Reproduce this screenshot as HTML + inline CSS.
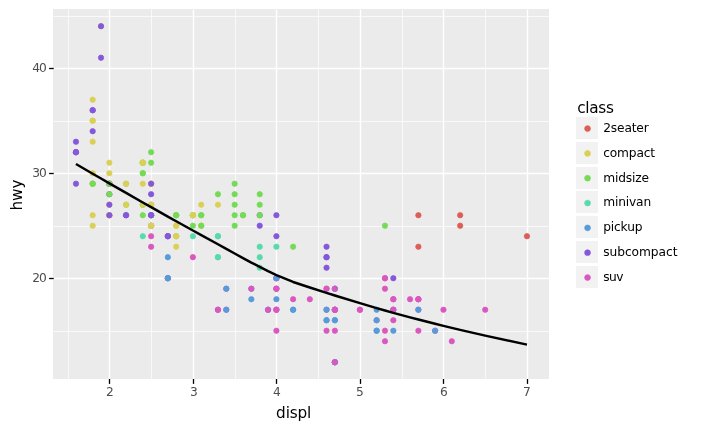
<!DOCTYPE html>
<html lang="en"><head><meta charset="utf-8"><title>hwy vs displ by class</title>
<style>html,body{margin:0;padding:0;background:#fff}body{width:704px;height:430px;overflow:hidden}svg{display:block}text{font-family:"DejaVu Sans","Liberation Sans",sans-serif}.tk{font-size:12.22px;fill:#4d4d4d}.ti{font-size:15.28px;fill:#000;letter-spacing:-0.17px}.lg{font-size:12.22px;fill:#000;letter-spacing:-0.156px}</style></head><body>
<svg width="704" height="430" viewBox="0 0 704 430">
<rect width="704" height="430" fill="#fff"/>
<rect x="53.00" y="9.00" width="496.00" height="370.00" fill="#ebebeb"/>
<g stroke="#fff" stroke-width="0.69" shape-rendering="auto">
<line x1="68.50" x2="68.50" y1="9.40" y2="379.00"/>
<line x1="151.50" x2="151.50" y1="9.40" y2="379.00"/>
<line x1="235.50" x2="235.50" y1="9.40" y2="379.00"/>
<line x1="318.50" x2="318.50" y1="9.40" y2="379.00"/>
<line x1="402.50" x2="402.50" y1="9.40" y2="379.00"/>
<line x1="485.50" x2="485.50" y1="9.40" y2="379.00"/>
<line x1="53.40" x2="549.00" y1="331.50" y2="331.50"/>
<line x1="53.40" x2="549.00" y1="226.50" y2="226.50"/>
<line x1="53.40" x2="549.00" y1="121.50" y2="121.50"/>
<line x1="53.40" x2="549.00" y1="16.50" y2="16.50"/>
</g>
<g stroke="#fff" stroke-width="1.39">
<line x1="109.50" x2="109.50" y1="9.40" y2="379.00"/>
<line x1="193.50" x2="193.50" y1="9.40" y2="379.00"/>
<line x1="276.50" x2="276.50" y1="9.40" y2="379.00"/>
<line x1="360.50" x2="360.50" y1="9.40" y2="379.00"/>
<line x1="443.50" x2="443.50" y1="9.40" y2="379.00"/>
<line x1="527.50" x2="527.50" y1="9.40" y2="379.00"/>
<line x1="53.40" x2="549.00" y1="278.50" y2="278.50"/>
<line x1="53.40" x2="549.00" y1="173.50" y2="173.50"/>
<line x1="53.40" x2="549.00" y1="68.50" y2="68.50"/>
</g>
<g stroke-width="0.69">
<circle cx="92.67" cy="183.71" r="2.70" fill="#dbd057" stroke="#dbd057"/>
<circle cx="92.67" cy="183.71" r="2.70" fill="#dbd057" stroke="#dbd057"/>
<circle cx="109.37" cy="162.71" r="2.70" fill="#dbd057" stroke="#dbd057"/>
<circle cx="109.37" cy="173.21" r="2.70" fill="#dbd057" stroke="#dbd057"/>
<circle cx="176.19" cy="215.22" r="2.70" fill="#dbd057" stroke="#dbd057"/>
<circle cx="176.19" cy="215.22" r="2.70" fill="#dbd057" stroke="#dbd057"/>
<circle cx="201.24" cy="204.72" r="2.70" fill="#dbd057" stroke="#dbd057"/>
<circle cx="92.67" cy="215.22" r="2.70" fill="#dbd057" stroke="#dbd057"/>
<circle cx="92.67" cy="225.72" r="2.70" fill="#dbd057" stroke="#dbd057"/>
<circle cx="109.37" cy="194.21" r="2.70" fill="#dbd057" stroke="#dbd057"/>
<circle cx="109.37" cy="204.72" r="2.70" fill="#dbd057" stroke="#dbd057"/>
<circle cx="176.19" cy="225.72" r="2.70" fill="#dbd057" stroke="#dbd057"/>
<circle cx="176.19" cy="225.72" r="2.70" fill="#dbd057" stroke="#dbd057"/>
<circle cx="201.24" cy="225.72" r="2.70" fill="#dbd057" stroke="#dbd057"/>
<circle cx="201.24" cy="225.72" r="2.70" fill="#dbd057" stroke="#dbd057"/>
<circle cx="176.19" cy="236.22" r="2.70" fill="#75db57" stroke="#75db57"/>
<circle cx="201.24" cy="225.72" r="2.70" fill="#75db57" stroke="#75db57"/>
<circle cx="293.11" cy="246.72" r="2.70" fill="#75db57" stroke="#75db57"/>
<circle cx="384.99" cy="278.22" r="2.70" fill="#db57c0" stroke="#db57c0"/>
<circle cx="384.99" cy="330.73" r="2.70" fill="#db57c0" stroke="#db57c0"/>
<circle cx="384.99" cy="278.22" r="2.70" fill="#db57c0" stroke="#db57c0"/>
<circle cx="418.39" cy="309.73" r="2.70" fill="#db57c0" stroke="#db57c0"/>
<circle cx="443.45" cy="309.73" r="2.70" fill="#db57c0" stroke="#db57c0"/>
<circle cx="418.39" cy="215.22" r="2.70" fill="#db5f57" stroke="#db5f57"/>
<circle cx="418.39" cy="246.72" r="2.70" fill="#db5f57" stroke="#db5f57"/>
<circle cx="460.15" cy="215.22" r="2.70" fill="#db5f57" stroke="#db5f57"/>
<circle cx="460.15" cy="225.72" r="2.70" fill="#db5f57" stroke="#db5f57"/>
<circle cx="526.97" cy="236.22" r="2.70" fill="#db5f57" stroke="#db5f57"/>
<circle cx="384.99" cy="288.72" r="2.70" fill="#db57c0" stroke="#db57c0"/>
<circle cx="384.99" cy="341.23" r="2.70" fill="#db57c0" stroke="#db57c0"/>
<circle cx="418.39" cy="330.73" r="2.70" fill="#db57c0" stroke="#db57c0"/>
<circle cx="485.21" cy="309.73" r="2.70" fill="#db57c0" stroke="#db57c0"/>
<circle cx="142.78" cy="204.72" r="2.70" fill="#75db57" stroke="#75db57"/>
<circle cx="142.78" cy="173.21" r="2.70" fill="#75db57" stroke="#75db57"/>
<circle cx="201.24" cy="215.22" r="2.70" fill="#75db57" stroke="#75db57"/>
<circle cx="234.65" cy="183.71" r="2.70" fill="#75db57" stroke="#75db57"/>
<circle cx="243.00" cy="215.22" r="2.70" fill="#75db57" stroke="#75db57"/>
<circle cx="142.78" cy="236.22" r="2.70" fill="#57dbaa" stroke="#57dbaa"/>
<circle cx="192.89" cy="236.22" r="2.70" fill="#57dbaa" stroke="#57dbaa"/>
<circle cx="217.95" cy="257.22" r="2.70" fill="#57dbaa" stroke="#57dbaa"/>
<circle cx="217.95" cy="257.22" r="2.70" fill="#57dbaa" stroke="#57dbaa"/>
<circle cx="217.95" cy="236.22" r="2.70" fill="#57dbaa" stroke="#57dbaa"/>
<circle cx="217.95" cy="236.22" r="2.70" fill="#57dbaa" stroke="#57dbaa"/>
<circle cx="217.95" cy="309.73" r="2.70" fill="#57dbaa" stroke="#57dbaa"/>
<circle cx="259.71" cy="257.22" r="2.70" fill="#57dbaa" stroke="#57dbaa"/>
<circle cx="259.71" cy="267.72" r="2.70" fill="#57dbaa" stroke="#57dbaa"/>
<circle cx="259.71" cy="246.72" r="2.70" fill="#57dbaa" stroke="#57dbaa"/>
<circle cx="276.41" cy="246.72" r="2.70" fill="#57dbaa" stroke="#57dbaa"/>
<circle cx="251.35" cy="288.72" r="2.70" fill="#579bdb" stroke="#579bdb"/>
<circle cx="251.35" cy="299.22" r="2.70" fill="#579bdb" stroke="#579bdb"/>
<circle cx="268.06" cy="309.73" r="2.70" fill="#579bdb" stroke="#579bdb"/>
<circle cx="268.06" cy="309.73" r="2.70" fill="#579bdb" stroke="#579bdb"/>
<circle cx="334.87" cy="288.72" r="2.70" fill="#579bdb" stroke="#579bdb"/>
<circle cx="334.87" cy="288.72" r="2.70" fill="#579bdb" stroke="#579bdb"/>
<circle cx="334.87" cy="362.23" r="2.70" fill="#579bdb" stroke="#579bdb"/>
<circle cx="376.63" cy="309.73" r="2.70" fill="#579bdb" stroke="#579bdb"/>
<circle cx="376.63" cy="330.73" r="2.70" fill="#579bdb" stroke="#579bdb"/>
<circle cx="268.06" cy="309.73" r="2.70" fill="#db57c0" stroke="#db57c0"/>
<circle cx="334.87" cy="309.73" r="2.70" fill="#db57c0" stroke="#db57c0"/>
<circle cx="334.87" cy="362.23" r="2.70" fill="#db57c0" stroke="#db57c0"/>
<circle cx="334.87" cy="309.73" r="2.70" fill="#db57c0" stroke="#db57c0"/>
<circle cx="376.63" cy="320.23" r="2.70" fill="#db57c0" stroke="#db57c0"/>
<circle cx="418.39" cy="299.22" r="2.70" fill="#db57c0" stroke="#db57c0"/>
<circle cx="435.10" cy="330.73" r="2.70" fill="#db57c0" stroke="#db57c0"/>
<circle cx="334.87" cy="320.23" r="2.70" fill="#579bdb" stroke="#579bdb"/>
<circle cx="334.87" cy="362.23" r="2.70" fill="#579bdb" stroke="#579bdb"/>
<circle cx="334.87" cy="309.73" r="2.70" fill="#579bdb" stroke="#579bdb"/>
<circle cx="334.87" cy="309.73" r="2.70" fill="#579bdb" stroke="#579bdb"/>
<circle cx="334.87" cy="320.23" r="2.70" fill="#579bdb" stroke="#579bdb"/>
<circle cx="334.87" cy="362.23" r="2.70" fill="#579bdb" stroke="#579bdb"/>
<circle cx="376.63" cy="330.73" r="2.70" fill="#579bdb" stroke="#579bdb"/>
<circle cx="376.63" cy="320.23" r="2.70" fill="#579bdb" stroke="#579bdb"/>
<circle cx="418.39" cy="309.73" r="2.70" fill="#579bdb" stroke="#579bdb"/>
<circle cx="435.10" cy="330.73" r="2.70" fill="#579bdb" stroke="#579bdb"/>
<circle cx="326.52" cy="309.73" r="2.70" fill="#db57c0" stroke="#db57c0"/>
<circle cx="393.34" cy="309.73" r="2.70" fill="#db57c0" stroke="#db57c0"/>
<circle cx="393.34" cy="299.22" r="2.70" fill="#db57c0" stroke="#db57c0"/>
<circle cx="276.41" cy="309.73" r="2.70" fill="#db57c0" stroke="#db57c0"/>
<circle cx="276.41" cy="288.72" r="2.70" fill="#db57c0" stroke="#db57c0"/>
<circle cx="276.41" cy="309.73" r="2.70" fill="#db57c0" stroke="#db57c0"/>
<circle cx="276.41" cy="288.72" r="2.70" fill="#db57c0" stroke="#db57c0"/>
<circle cx="326.52" cy="288.72" r="2.70" fill="#db57c0" stroke="#db57c0"/>
<circle cx="359.93" cy="309.73" r="2.70" fill="#db57c0" stroke="#db57c0"/>
<circle cx="293.11" cy="309.73" r="2.70" fill="#579bdb" stroke="#579bdb"/>
<circle cx="293.11" cy="309.73" r="2.70" fill="#579bdb" stroke="#579bdb"/>
<circle cx="326.52" cy="320.23" r="2.70" fill="#579bdb" stroke="#579bdb"/>
<circle cx="326.52" cy="320.23" r="2.70" fill="#579bdb" stroke="#579bdb"/>
<circle cx="326.52" cy="309.73" r="2.70" fill="#579bdb" stroke="#579bdb"/>
<circle cx="393.34" cy="330.73" r="2.70" fill="#579bdb" stroke="#579bdb"/>
<circle cx="393.34" cy="309.73" r="2.70" fill="#579bdb" stroke="#579bdb"/>
<circle cx="259.71" cy="215.22" r="2.70" fill="#8557db" stroke="#8557db"/>
<circle cx="259.71" cy="225.72" r="2.70" fill="#8557db" stroke="#8557db"/>
<circle cx="276.41" cy="215.22" r="2.70" fill="#8557db" stroke="#8557db"/>
<circle cx="276.41" cy="236.22" r="2.70" fill="#8557db" stroke="#8557db"/>
<circle cx="326.52" cy="267.72" r="2.70" fill="#8557db" stroke="#8557db"/>
<circle cx="326.52" cy="257.22" r="2.70" fill="#8557db" stroke="#8557db"/>
<circle cx="326.52" cy="246.72" r="2.70" fill="#8557db" stroke="#8557db"/>
<circle cx="326.52" cy="257.22" r="2.70" fill="#8557db" stroke="#8557db"/>
<circle cx="393.34" cy="278.22" r="2.70" fill="#8557db" stroke="#8557db"/>
<circle cx="75.96" cy="141.71" r="2.70" fill="#8557db" stroke="#8557db"/>
<circle cx="75.96" cy="152.21" r="2.70" fill="#8557db" stroke="#8557db"/>
<circle cx="75.96" cy="152.21" r="2.70" fill="#8557db" stroke="#8557db"/>
<circle cx="75.96" cy="183.71" r="2.70" fill="#8557db" stroke="#8557db"/>
<circle cx="75.96" cy="152.21" r="2.70" fill="#8557db" stroke="#8557db"/>
<circle cx="92.67" cy="131.21" r="2.70" fill="#8557db" stroke="#8557db"/>
<circle cx="92.67" cy="110.21" r="2.70" fill="#8557db" stroke="#8557db"/>
<circle cx="92.67" cy="110.21" r="2.70" fill="#8557db" stroke="#8557db"/>
<circle cx="109.37" cy="183.71" r="2.70" fill="#8557db" stroke="#8557db"/>
<circle cx="142.78" cy="215.22" r="2.70" fill="#75db57" stroke="#75db57"/>
<circle cx="142.78" cy="204.72" r="2.70" fill="#75db57" stroke="#75db57"/>
<circle cx="142.78" cy="173.21" r="2.70" fill="#75db57" stroke="#75db57"/>
<circle cx="142.78" cy="162.71" r="2.70" fill="#75db57" stroke="#75db57"/>
<circle cx="151.13" cy="215.22" r="2.70" fill="#75db57" stroke="#75db57"/>
<circle cx="151.13" cy="215.22" r="2.70" fill="#75db57" stroke="#75db57"/>
<circle cx="217.95" cy="194.21" r="2.70" fill="#75db57" stroke="#75db57"/>
<circle cx="109.37" cy="215.22" r="2.70" fill="#8557db" stroke="#8557db"/>
<circle cx="109.37" cy="183.71" r="2.70" fill="#8557db" stroke="#8557db"/>
<circle cx="109.37" cy="194.21" r="2.70" fill="#8557db" stroke="#8557db"/>
<circle cx="109.37" cy="204.72" r="2.70" fill="#8557db" stroke="#8557db"/>
<circle cx="167.83" cy="236.22" r="2.70" fill="#8557db" stroke="#8557db"/>
<circle cx="167.83" cy="236.22" r="2.70" fill="#8557db" stroke="#8557db"/>
<circle cx="167.83" cy="236.22" r="2.70" fill="#8557db" stroke="#8557db"/>
<circle cx="192.89" cy="257.22" r="2.70" fill="#db57c0" stroke="#db57c0"/>
<circle cx="251.35" cy="288.72" r="2.70" fill="#db57c0" stroke="#db57c0"/>
<circle cx="276.41" cy="278.22" r="2.70" fill="#db57c0" stroke="#db57c0"/>
<circle cx="334.87" cy="309.73" r="2.70" fill="#db57c0" stroke="#db57c0"/>
<circle cx="334.87" cy="362.23" r="2.70" fill="#db57c0" stroke="#db57c0"/>
<circle cx="334.87" cy="288.72" r="2.70" fill="#db57c0" stroke="#db57c0"/>
<circle cx="418.39" cy="299.22" r="2.70" fill="#db57c0" stroke="#db57c0"/>
<circle cx="451.80" cy="341.23" r="2.70" fill="#db57c0" stroke="#db57c0"/>
<circle cx="276.41" cy="330.73" r="2.70" fill="#db57c0" stroke="#db57c0"/>
<circle cx="293.11" cy="299.22" r="2.70" fill="#db57c0" stroke="#db57c0"/>
<circle cx="309.82" cy="299.22" r="2.70" fill="#db57c0" stroke="#db57c0"/>
<circle cx="326.52" cy="330.73" r="2.70" fill="#db57c0" stroke="#db57c0"/>
<circle cx="393.34" cy="309.73" r="2.70" fill="#db57c0" stroke="#db57c0"/>
<circle cx="393.34" cy="320.23" r="2.70" fill="#db57c0" stroke="#db57c0"/>
<circle cx="393.34" cy="299.22" r="2.70" fill="#db57c0" stroke="#db57c0"/>
<circle cx="276.41" cy="309.73" r="2.70" fill="#db57c0" stroke="#db57c0"/>
<circle cx="276.41" cy="288.72" r="2.70" fill="#db57c0" stroke="#db57c0"/>
<circle cx="326.52" cy="288.72" r="2.70" fill="#db57c0" stroke="#db57c0"/>
<circle cx="359.93" cy="309.73" r="2.70" fill="#db57c0" stroke="#db57c0"/>
<circle cx="142.78" cy="183.71" r="2.70" fill="#dbd057" stroke="#dbd057"/>
<circle cx="142.78" cy="204.72" r="2.70" fill="#dbd057" stroke="#dbd057"/>
<circle cx="151.13" cy="162.71" r="2.70" fill="#75db57" stroke="#75db57"/>
<circle cx="151.13" cy="152.21" r="2.70" fill="#75db57" stroke="#75db57"/>
<circle cx="234.65" cy="204.72" r="2.70" fill="#75db57" stroke="#75db57"/>
<circle cx="234.65" cy="215.22" r="2.70" fill="#75db57" stroke="#75db57"/>
<circle cx="192.89" cy="215.22" r="2.70" fill="#75db57" stroke="#75db57"/>
<circle cx="192.89" cy="225.72" r="2.70" fill="#75db57" stroke="#75db57"/>
<circle cx="234.65" cy="225.72" r="2.70" fill="#75db57" stroke="#75db57"/>
<circle cx="217.95" cy="309.73" r="2.70" fill="#db57c0" stroke="#db57c0"/>
<circle cx="217.95" cy="309.73" r="2.70" fill="#db57c0" stroke="#db57c0"/>
<circle cx="276.41" cy="278.22" r="2.70" fill="#db57c0" stroke="#db57c0"/>
<circle cx="410.04" cy="299.22" r="2.70" fill="#db57c0" stroke="#db57c0"/>
<circle cx="201.24" cy="215.22" r="2.70" fill="#75db57" stroke="#75db57"/>
<circle cx="259.71" cy="215.22" r="2.70" fill="#75db57" stroke="#75db57"/>
<circle cx="259.71" cy="204.72" r="2.70" fill="#75db57" stroke="#75db57"/>
<circle cx="259.71" cy="194.21" r="2.70" fill="#75db57" stroke="#75db57"/>
<circle cx="384.99" cy="225.72" r="2.70" fill="#75db57" stroke="#75db57"/>
<circle cx="151.13" cy="225.72" r="2.70" fill="#db57c0" stroke="#db57c0"/>
<circle cx="151.13" cy="236.22" r="2.70" fill="#db57c0" stroke="#db57c0"/>
<circle cx="151.13" cy="204.72" r="2.70" fill="#db57c0" stroke="#db57c0"/>
<circle cx="151.13" cy="225.72" r="2.70" fill="#db57c0" stroke="#db57c0"/>
<circle cx="151.13" cy="215.22" r="2.70" fill="#db57c0" stroke="#db57c0"/>
<circle cx="151.13" cy="246.72" r="2.70" fill="#db57c0" stroke="#db57c0"/>
<circle cx="126.07" cy="215.22" r="2.70" fill="#8557db" stroke="#8557db"/>
<circle cx="126.07" cy="215.22" r="2.70" fill="#8557db" stroke="#8557db"/>
<circle cx="151.13" cy="215.22" r="2.70" fill="#8557db" stroke="#8557db"/>
<circle cx="151.13" cy="215.22" r="2.70" fill="#8557db" stroke="#8557db"/>
<circle cx="151.13" cy="225.72" r="2.70" fill="#dbd057" stroke="#dbd057"/>
<circle cx="151.13" cy="204.72" r="2.70" fill="#dbd057" stroke="#dbd057"/>
<circle cx="151.13" cy="225.72" r="2.70" fill="#dbd057" stroke="#dbd057"/>
<circle cx="151.13" cy="204.72" r="2.70" fill="#dbd057" stroke="#dbd057"/>
<circle cx="167.83" cy="278.22" r="2.70" fill="#db57c0" stroke="#db57c0"/>
<circle cx="167.83" cy="278.22" r="2.70" fill="#db57c0" stroke="#db57c0"/>
<circle cx="226.30" cy="288.72" r="2.70" fill="#db57c0" stroke="#db57c0"/>
<circle cx="226.30" cy="309.73" r="2.70" fill="#db57c0" stroke="#db57c0"/>
<circle cx="276.41" cy="278.22" r="2.70" fill="#db57c0" stroke="#db57c0"/>
<circle cx="334.87" cy="309.73" r="2.70" fill="#db57c0" stroke="#db57c0"/>
<circle cx="126.07" cy="183.71" r="2.70" fill="#75db57" stroke="#75db57"/>
<circle cx="126.07" cy="204.72" r="2.70" fill="#75db57" stroke="#75db57"/>
<circle cx="142.78" cy="162.71" r="2.70" fill="#75db57" stroke="#75db57"/>
<circle cx="142.78" cy="162.71" r="2.70" fill="#75db57" stroke="#75db57"/>
<circle cx="192.89" cy="215.22" r="2.70" fill="#75db57" stroke="#75db57"/>
<circle cx="192.89" cy="215.22" r="2.70" fill="#75db57" stroke="#75db57"/>
<circle cx="234.65" cy="194.21" r="2.70" fill="#75db57" stroke="#75db57"/>
<circle cx="126.07" cy="204.72" r="2.70" fill="#dbd057" stroke="#dbd057"/>
<circle cx="126.07" cy="183.71" r="2.70" fill="#dbd057" stroke="#dbd057"/>
<circle cx="142.78" cy="162.71" r="2.70" fill="#dbd057" stroke="#dbd057"/>
<circle cx="142.78" cy="162.71" r="2.70" fill="#dbd057" stroke="#dbd057"/>
<circle cx="192.89" cy="215.22" r="2.70" fill="#dbd057" stroke="#dbd057"/>
<circle cx="192.89" cy="215.22" r="2.70" fill="#dbd057" stroke="#dbd057"/>
<circle cx="217.95" cy="204.72" r="2.70" fill="#dbd057" stroke="#dbd057"/>
<circle cx="92.67" cy="173.21" r="2.70" fill="#dbd057" stroke="#dbd057"/>
<circle cx="92.67" cy="141.71" r="2.70" fill="#dbd057" stroke="#dbd057"/>
<circle cx="92.67" cy="120.71" r="2.70" fill="#dbd057" stroke="#dbd057"/>
<circle cx="92.67" cy="99.71" r="2.70" fill="#dbd057" stroke="#dbd057"/>
<circle cx="92.67" cy="120.71" r="2.70" fill="#dbd057" stroke="#dbd057"/>
<circle cx="334.87" cy="330.73" r="2.70" fill="#db57c0" stroke="#db57c0"/>
<circle cx="418.39" cy="299.22" r="2.70" fill="#db57c0" stroke="#db57c0"/>
<circle cx="167.83" cy="278.22" r="2.70" fill="#579bdb" stroke="#579bdb"/>
<circle cx="167.83" cy="278.22" r="2.70" fill="#579bdb" stroke="#579bdb"/>
<circle cx="167.83" cy="257.22" r="2.70" fill="#579bdb" stroke="#579bdb"/>
<circle cx="226.30" cy="309.73" r="2.70" fill="#579bdb" stroke="#579bdb"/>
<circle cx="226.30" cy="288.72" r="2.70" fill="#579bdb" stroke="#579bdb"/>
<circle cx="276.41" cy="299.22" r="2.70" fill="#579bdb" stroke="#579bdb"/>
<circle cx="276.41" cy="278.22" r="2.70" fill="#579bdb" stroke="#579bdb"/>
<circle cx="109.37" cy="183.71" r="2.70" fill="#dbd057" stroke="#dbd057"/>
<circle cx="109.37" cy="215.22" r="2.70" fill="#dbd057" stroke="#dbd057"/>
<circle cx="109.37" cy="183.71" r="2.70" fill="#dbd057" stroke="#dbd057"/>
<circle cx="109.37" cy="183.71" r="2.70" fill="#dbd057" stroke="#dbd057"/>
<circle cx="176.19" cy="236.22" r="2.70" fill="#dbd057" stroke="#dbd057"/>
<circle cx="101.02" cy="26.20" r="2.70" fill="#dbd057" stroke="#dbd057"/>
<circle cx="109.37" cy="183.71" r="2.70" fill="#dbd057" stroke="#dbd057"/>
<circle cx="109.37" cy="215.22" r="2.70" fill="#dbd057" stroke="#dbd057"/>
<circle cx="109.37" cy="183.71" r="2.70" fill="#dbd057" stroke="#dbd057"/>
<circle cx="109.37" cy="183.71" r="2.70" fill="#dbd057" stroke="#dbd057"/>
<circle cx="151.13" cy="183.71" r="2.70" fill="#dbd057" stroke="#dbd057"/>
<circle cx="151.13" cy="183.71" r="2.70" fill="#dbd057" stroke="#dbd057"/>
<circle cx="176.19" cy="246.72" r="2.70" fill="#dbd057" stroke="#dbd057"/>
<circle cx="176.19" cy="236.22" r="2.70" fill="#dbd057" stroke="#dbd057"/>
<circle cx="101.02" cy="26.20" r="2.70" fill="#8557db" stroke="#8557db"/>
<circle cx="101.02" cy="57.70" r="2.70" fill="#8557db" stroke="#8557db"/>
<circle cx="109.37" cy="183.71" r="2.70" fill="#8557db" stroke="#8557db"/>
<circle cx="109.37" cy="215.22" r="2.70" fill="#8557db" stroke="#8557db"/>
<circle cx="151.13" cy="194.21" r="2.70" fill="#8557db" stroke="#8557db"/>
<circle cx="151.13" cy="183.71" r="2.70" fill="#8557db" stroke="#8557db"/>
<circle cx="92.67" cy="183.71" r="2.70" fill="#75db57" stroke="#75db57"/>
<circle cx="92.67" cy="183.71" r="2.70" fill="#75db57" stroke="#75db57"/>
<circle cx="109.37" cy="194.21" r="2.70" fill="#75db57" stroke="#75db57"/>
<circle cx="109.37" cy="183.71" r="2.70" fill="#75db57" stroke="#75db57"/>
<circle cx="176.19" cy="215.22" r="2.70" fill="#75db57" stroke="#75db57"/>
<circle cx="176.19" cy="215.22" r="2.70" fill="#75db57" stroke="#75db57"/>
<circle cx="243.00" cy="215.22" r="2.70" fill="#75db57" stroke="#75db57"/>
</g>
<polyline points="75.96,164.02 75.96,164.02 75.96,164.02 75.96,164.02 75.96,164.02 92.67,173.73 92.67,173.73 92.67,173.73 92.67,173.73 92.67,173.73 92.67,173.73 92.67,173.73 92.67,173.73 92.67,173.73 92.67,173.73 92.67,173.73 92.67,173.73 92.67,173.73 92.67,173.73 101.02,178.56 101.02,178.56 101.02,178.56 109.37,183.36 109.37,183.36 109.37,183.36 109.37,183.36 109.37,183.36 109.37,183.36 109.37,183.36 109.37,183.36 109.37,183.36 109.37,183.36 109.37,183.36 109.37,183.36 109.37,183.36 109.37,183.36 109.37,183.36 109.37,183.36 109.37,183.36 109.37,183.36 109.37,183.36 109.37,183.36 109.37,183.36 126.07,192.93 126.07,192.93 126.07,192.93 126.07,192.93 126.07,192.93 126.07,192.93 142.78,202.45 142.78,202.45 142.78,202.45 142.78,202.45 142.78,202.45 142.78,202.45 142.78,202.45 142.78,202.45 142.78,202.45 142.78,202.45 142.78,202.45 142.78,202.45 142.78,202.45 151.13,207.18 151.13,207.18 151.13,207.18 151.13,207.18 151.13,207.18 151.13,207.18 151.13,207.18 151.13,207.18 151.13,207.18 151.13,207.18 151.13,207.18 151.13,207.18 151.13,207.18 151.13,207.18 151.13,207.18 151.13,207.18 151.13,207.18 151.13,207.18 151.13,207.18 151.13,207.18 167.83,216.58 167.83,216.58 167.83,216.58 167.83,216.58 167.83,216.58 167.83,216.58 167.83,216.58 167.83,216.58 176.19,221.26 176.19,221.26 176.19,221.26 176.19,221.26 176.19,221.26 176.19,221.26 176.19,221.26 176.19,221.26 176.19,221.26 176.19,221.26 192.89,230.53 192.89,230.53 192.89,230.53 192.89,230.53 192.89,230.53 192.89,230.53 192.89,230.53 192.89,230.53 201.24,235.08 201.24,235.08 201.24,235.08 201.24,235.08 201.24,235.08 201.24,235.08 217.95,244.25 217.95,244.25 217.95,244.25 217.95,244.25 217.95,244.25 217.95,244.25 217.95,244.25 217.95,244.25 217.95,244.25 226.30,248.92 226.30,248.92 226.30,248.92 226.30,248.92 234.65,253.52 234.65,253.52 234.65,253.52 234.65,253.52 234.65,253.52 243.00,258.13 243.00,258.13 251.35,262.65 251.35,262.65 251.35,262.65 259.71,266.82 259.71,266.82 259.71,266.82 259.71,266.82 259.71,266.82 259.71,266.82 259.71,266.82 259.71,266.82 268.06,271.17 268.06,271.17 268.06,271.17 276.41,275.12 276.41,275.12 276.41,275.12 276.41,275.12 276.41,275.12 276.41,275.12 276.41,275.12 276.41,275.12 276.41,275.12 276.41,275.12 276.41,275.12 276.41,275.12 276.41,275.12 276.41,275.12 276.41,275.12 293.11,281.97 293.11,281.97 293.11,281.97 293.11,281.97 309.82,287.48 326.52,292.83 326.52,292.83 326.52,292.83 326.52,292.83 326.52,292.83 326.52,292.83 326.52,292.83 326.52,292.83 326.52,292.83 326.52,292.83 326.52,292.83 334.87,295.47 334.87,295.47 334.87,295.47 334.87,295.47 334.87,295.47 334.87,295.47 334.87,295.47 334.87,295.47 334.87,295.47 334.87,295.47 334.87,295.47 334.87,295.47 334.87,295.47 334.87,295.47 334.87,295.47 334.87,295.47 334.87,295.47 359.93,303.17 359.93,303.17 376.63,308.09 376.63,308.09 376.63,308.09 376.63,308.09 376.63,308.09 384.99,310.48 384.99,310.48 384.99,310.48 384.99,310.48 384.99,310.48 384.99,310.48 393.34,312.83 393.34,312.83 393.34,312.83 393.34,312.83 393.34,312.83 393.34,312.83 393.34,312.83 393.34,312.83 410.04,317.37 418.39,319.56 418.39,319.56 418.39,319.56 418.39,319.56 418.39,319.56 418.39,319.56 418.39,319.56 418.39,319.56 435.10,323.81 435.10,323.81 443.45,325.87 451.80,327.90 460.15,329.88 460.15,329.88 485.21,335.63 526.97,344.62" fill="none" stroke="#000" stroke-width="2.46" stroke-linejoin="round" stroke-linecap="butt"/>
<g stroke="#000" stroke-width="1.30">
<line x1="109.50" x2="109.50" y1="379.00" y2="383.90"/>
<line x1="193.50" x2="193.50" y1="379.00" y2="383.90"/>
<line x1="276.50" x2="276.50" y1="379.00" y2="383.90"/>
<line x1="360.50" x2="360.50" y1="379.00" y2="383.90"/>
<line x1="443.50" x2="443.50" y1="379.00" y2="383.90"/>
<line x1="527.50" x2="527.50" y1="379.00" y2="383.90"/>
<line x1="49.10" x2="53.70" y1="278.50" y2="278.50"/>
<line x1="49.10" x2="53.70" y1="173.50" y2="173.50"/>
<line x1="49.10" x2="53.70" y1="68.50" y2="68.50"/>
</g>
<text class="tk" x="106.00" y="395.80" >2</text>
<text class="tk" x="190.00" y="395.80" >3</text>
<text class="tk" x="273.00" y="395.80" >4</text>
<text class="tk" x="356.00" y="395.80" >5</text>
<text class="tk" x="440.00" y="395.80" >6</text>
<text class="tk" x="523.00" y="395.80" >7</text>
<text class="tk" x="32.20 38.93" y="281.85">20</text>
<text class="tk" x="32.20 38.93" y="176.85">30</text>
<text class="tk" x="32.20 38.93" y="71.85">40</text>
<text class="ti" x="293.60" y="417.70" text-anchor="middle">displ</text>
<text class="ti" transform="translate(21.50,195.10) rotate(-90)" text-anchor="middle">hwy</text>
<text class="ti" style="letter-spacing:-0.27px" x="577.20" y="113.30">class</text>
<rect x="576.00" y="117.00" width="22.00" height="22.00" fill="#f2f2f2"/>
<circle cx="587.55" cy="128.55" r="2.90" fill="#db5f57" stroke="#db5f57" stroke-width="0.69"/>
<text class="lg" x="603.20" y="132.00">2seater</text>
<rect x="576.00" y="142.00" width="22.00" height="22.00" fill="#f2f2f2"/>
<circle cx="587.55" cy="153.38" r="2.90" fill="#dbd057" stroke="#dbd057" stroke-width="0.69"/>
<text class="lg" x="603.20" y="156.83">compact</text>
<rect x="576.00" y="167.00" width="22.00" height="22.00" fill="#f2f2f2"/>
<circle cx="587.55" cy="178.21" r="2.90" fill="#75db57" stroke="#75db57" stroke-width="0.69"/>
<text class="lg" x="603.20" y="181.66">midsize</text>
<rect x="576.00" y="191.00" width="22.00" height="22.00" fill="#f2f2f2"/>
<circle cx="587.55" cy="203.04" r="2.90" fill="#57dbaa" stroke="#57dbaa" stroke-width="0.69"/>
<text class="lg" x="603.20" y="206.49">minivan</text>
<rect x="576.00" y="216.00" width="22.00" height="22.00" fill="#f2f2f2"/>
<circle cx="587.55" cy="227.87" r="2.90" fill="#579bdb" stroke="#579bdb" stroke-width="0.69"/>
<text class="lg" x="603.20" y="231.32">pickup</text>
<rect x="576.00" y="241.00" width="22.00" height="22.00" fill="#f2f2f2"/>
<circle cx="587.55" cy="252.70" r="2.90" fill="#8557db" stroke="#8557db" stroke-width="0.69"/>
<text class="lg" style="letter-spacing:-0.05px" x="603.20" y="256.15">subcompact</text>
<rect x="576.00" y="266.00" width="22.00" height="22.00" fill="#f2f2f2"/>
<circle cx="587.55" cy="277.53" r="2.90" fill="#db57c0" stroke="#db57c0" stroke-width="0.69"/>
<text class="lg" style="letter-spacing:-0.5px" x="603.20" y="280.98">suv</text>
</svg></body></html>
